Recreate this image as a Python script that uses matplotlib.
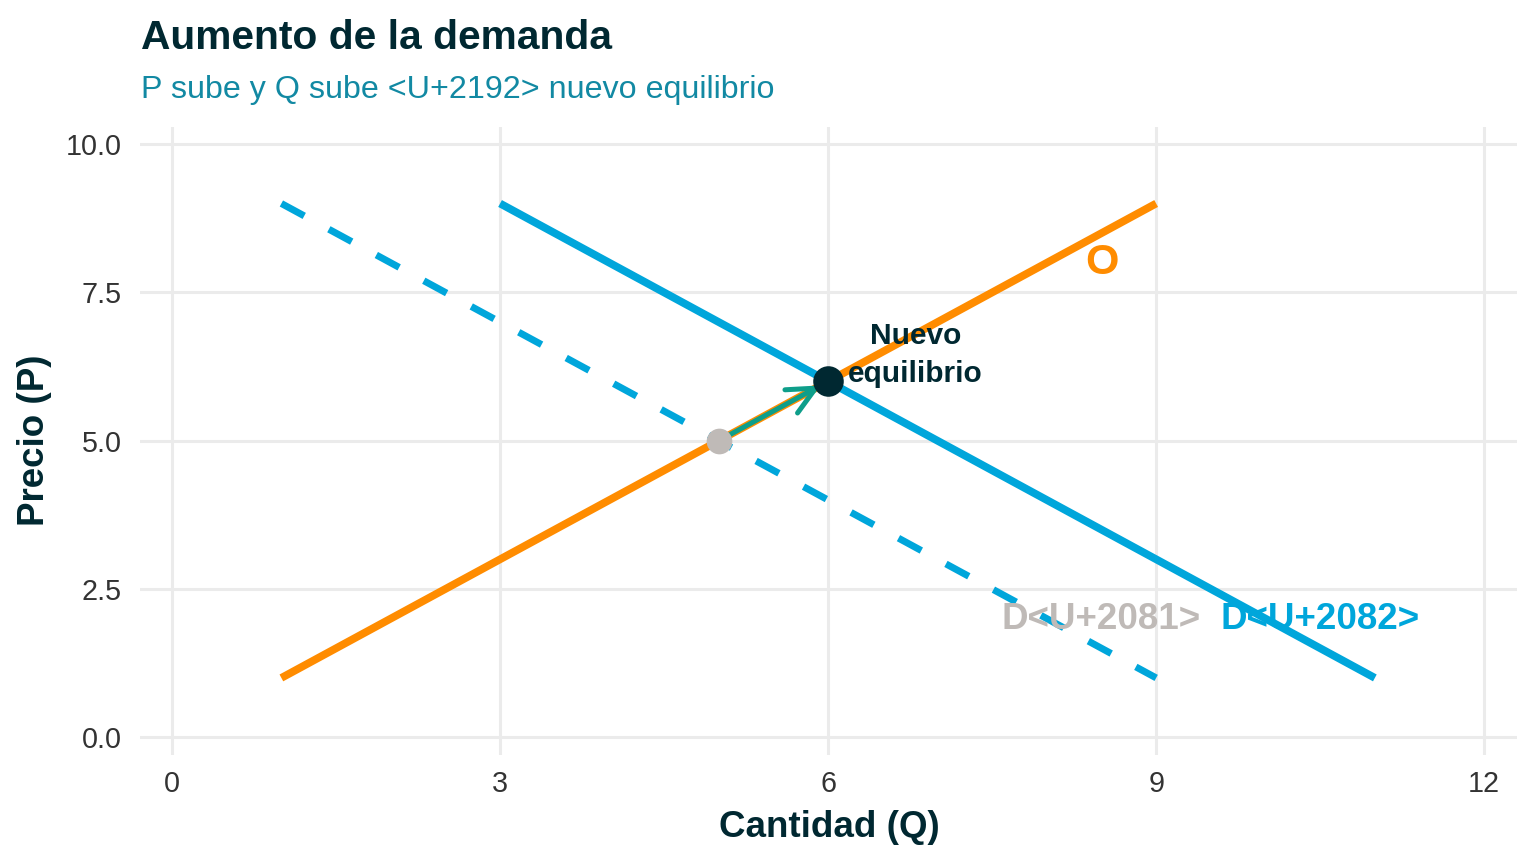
import matplotlib
matplotlib.use("Agg")
import matplotlib.pyplot as plt
import numpy as np

# ---- data ----
supply_q = [1, 9]
supply_p = [1, 9]
demand1_q = [1, 9]
demand1_p = [9, 1]
demand2_q = [3, 11]
demand2_p = [9, 1]
eq_old = (5, 5)
eq_new = (6, 6)
x_ticks = [0, 3, 6, 9, 12]
y_ticks = [0.0, 2.5, 5.0, 7.5, 10.0]
x_tick_labels = ["0", "3", "6", "9", "12"]
y_tick_labels = ["0.0", "2.5", "5.0", "7.5", "10.0"]
label_O = ("O", 8.5, 8.0)
label_D1 = ("D<U+2081>", 8.5, 1.98)
label_D2 = ("D<U+2082>", 10.5, 1.98)
label_eq = ("Nuevo\nequilibrio", 6.8, 6.45)
title = "Aumento de la demanda"
subtitle = "P sube y Q sube <U+2192> nuevo equilibrio"
xlabel = "Cantidad (Q)"
ylabel = "Precio (P)"

# ---- style ----
ORANGE = "#FF8C00"
BLUE = "#00A6DB"
TEAL = "#0E9E8A"
DARK = "#002831"
GRAY = "#BFBAB7"
SUB = "#1289A3"
GRID = "#EBEBEB"

plt.rcParams['font.family'] = ['Liberation Sans', 'DejaVu Sans']

W, H = 1536, 864
fig = plt.figure(figsize=(W / 100, H / 100), dpi=100)
L, R, T, B = 140, 1517, 127, 755
ax = fig.add_axes([L / W, 1 - B / H, (R - L) / W, (B - T) / H])
ax.set_xlim(-0.293, 12.30)
ax.set_ylim(-0.30, 10.29)
for s in ax.spines.values():
    s.set_visible(False)
ax.set_xticks(x_ticks)
ax.set_xticklabels(x_tick_labels)
ax.set_yticks(y_ticks)
ax.set_yticklabels(y_tick_labels)
ax.tick_params(length=0, labelsize=20.7, colors="#333333", labelcolor="#333333")
ax.tick_params(axis='x', pad=11)
ax.tick_params(axis='y', pad=13)
ax.grid(True, color=GRID, linewidth=2.2)
ax.set_axisbelow(True)

lw_solid = 5.6
lw_dash = 5.0
ax.plot(demand1_q, demand1_p, color=BLUE, lw=lw_dash,
        linestyle=(0, (26 * 0.72 / lw_dash, 28 * 0.72 / lw_dash)),
        dash_capstyle='butt', zorder=3)
ax.plot(demand2_q, demand2_p, color=BLUE, lw=lw_solid, solid_capstyle='butt', zorder=3)
ax.plot(supply_q, supply_p, color=ORANGE, lw=lw_solid, solid_capstyle='butt', zorder=3)

ax.annotate("", xy=eq_new, xytext=eq_old,
            arrowprops=dict(arrowstyle="->,head_length=2.0,head_width=0.95",
                            color=TEAL, lw=3.6, shrinkA=6, shrinkB=6),
            zorder=4)

ax.plot([eq_old[0]], [eq_old[1]], 'o', color=GRAY, markersize=18.5, markeredgewidth=0, zorder=5)
ax.plot([eq_new[0]], [eq_new[1]], 'o', color=DARK, markersize=22, markeredgewidth=0, zorder=5)

ax.text(label_O[1], label_O[2], label_O[0], color=ORANGE, fontsize=31, fontweight='bold',
        ha='center', va='center', zorder=6)
ax.text(label_D1[1], label_D1[2], label_D1[0], color=GRAY, fontsize=26.5, fontweight='bold',
        ha='center', va='center', zorder=6)
ax.text(label_D2[1], label_D2[2], label_D2[0], color=BLUE, fontsize=26.5, fontweight='bold',
        ha='center', va='center', zorder=6)
ax.text(label_eq[1], label_eq[2], label_eq[0], color=DARK, fontsize=21.5, fontweight='bold',
        ha='center', va='center', linespacing=1.45, zorder=6)

fig.text(141 / W, 1 - 49 / H, title, fontsize=29.3, fontweight='bold', color=DARK,
         ha='left', va='baseline')
fig.text(141 / W, 1 - 98 / H, subtitle, fontsize=23.2, color=SUB, ha='left', va='baseline')
fig.text(829 / W, 1 - 837 / H, xlabel, fontsize=26.5, fontweight='bold', color=DARK,
         ha='center', va='baseline')
fig.text(35 / W, 1 - 440 / H, ylabel, fontsize=26.5, fontweight='bold', color=DARK,
         ha='center', va='center', rotation=90)

fig.savefig("out.png", dpi=100)
